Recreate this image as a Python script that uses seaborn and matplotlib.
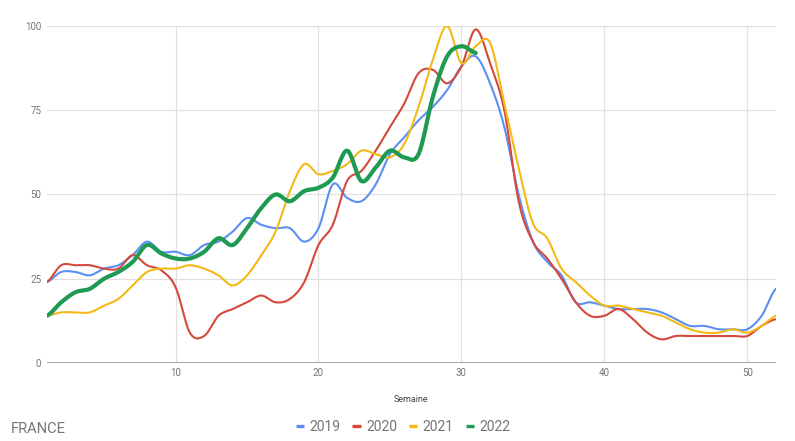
import matplotlib
matplotlib.use("Agg")
import matplotlib.pyplot as plt
from matplotlib.lines import Line2D
import numpy as np
import pandas as pd
import seaborn as sns

WEEKS = list(range(1, 53))

Y2019 = [24, 27, 27, 26, 28, 29, 32, 36, 33, 33, 32, 35, 36, 39, 43, 41, 40, 40, 36, 40,
         53, 49, 48, 53, 62, 67, 72, 76, 81, 88, 91, 83, 70, 50, 36, 30, 26, 18, 18, 17,
         16, 16, 16, 15, 13, 11, 11, 10, 10, 10, 14, 22]
Y2020 = [24, 29, 29, 29, 28, 28, 32, 29, 27.5, 22.5, 9, 8, 14, 16, 18, 20, 18, 19, 24, 35,
         41, 54, 57, 63, 70, 77, 86, 87, 83, 88, 99, 89, 75, 48, 36, 31, 25, 18, 14, 14,
         16, 13, 9, 7, 8, 8, 8, 8, 8, 8, 11, 13]
Y2021 = [14, 15, 15, 15, 17, 19, 23, 27, 28, 28, 29, 28, 26, 23, 26, 32, 39, 51, 59, 56,
         57, 59, 63, 62, 61, 65, 76, 90, 100, 89, 94, 95, 77, 58, 41.5, 37, 28, 24, 20, 17,
         17, 16, 15, 14, 12, 10, 9, 9, 10, 9, 11, 14]
Y2022 = [14, 18, 21, 22, 25, 27, 30, 35, 32.5, 31, 31, 33, 37, 35, 40, 46, 50, 48, 51, 52,
         55, 63, 54, 58, 63, 61, 62, 79, 91, 94, 92]

SERIES = ["2019", "2020", "2021", "2022"]
COLORS = ["#5b8ff3", "#d4493c", "#f4b916", "#1e9a52"]
WIDTHS = [1.5, 1.5, 1.5, 3.0]
GREY = "#757575"


def smooth(x, y, n=16):
    """Catmull-Rom curve through the weekly points (like curveType 'function')."""
    x = np.asarray(x, float)
    y = np.asarray(y, float)
    yp = np.concatenate([[y[0]], y, [y[-1]]])
    xs, ys = [], []
    t = np.linspace(0, 1, n, endpoint=False)
    for i in range(len(y) - 1):
        p0, p1, p2, p3 = yp[i], yp[i + 1], yp[i + 2], yp[i + 3]
        seg = 0.5 * (2 * p1 + (-p0 + p2) * t + (2 * p0 - 5 * p1 + 4 * p2 - p3) * t ** 2
                     + (-p0 + 3 * p1 - 3 * p2 + p3) * t ** 3)
        xs.append(x[i] + t * (x[i + 1] - x[i]))
        ys.append(seg)
    xs.append([x[-1]])
    ys.append([y[-1]])
    return np.concatenate(xs), np.concatenate(ys)


def main() -> None:
    sns.set_style("white")
    plt.rcParams["font.family"] = ["Roboto", "DejaVu Sans"]

    fig = plt.figure(figsize=(7.95, 4.41), dpi=100)
    ax = fig.add_axes([0.059, 0.177, 0.917, 0.764])

    for name, vals, color, lw in zip(SERIES, [Y2019, Y2020, Y2021, Y2022], COLORS, WIDTHS):
        xs, ys = smooth(WEEKS[: len(vals)], vals)
        df = pd.DataFrame({"Semaine": xs, "value": ys})
        sns.lineplot(data=df, x="Semaine", y="value", ax=ax, color=color,
                     linewidth=lw, sort=False, estimator=None, zorder=3)

    ax.set_xlim(1, 52)
    ax.set_ylim(0, 100)
    ax.set_xticks([10, 20, 30, 40, 50])
    ax.set_yticks([0, 25, 50, 75, 100])
    ax.grid(True, color="#e0e0e0", linewidth=0.9, zorder=0)
    ax.axhline(0, color="#9e9e9e", linewidth=1.3, zorder=2)
    for s in ax.spines.values():
        s.set_visible(False)
    ax.tick_params(length=0, labelsize=7, labelcolor=GREY, pad=4)
    ax.set_xlabel("Semaine", fontsize=6.5, color="#444444", labelpad=12)
    ax.set_ylabel("")

    handles = [Line2D([0], [0], color=c, linewidth=2.4, solid_capstyle="butt") for c in COLORS]
    fig.legend(handles, SERIES, loc="center", bbox_to_anchor=(0.507, 0.032), ncol=4,
               frameon=False, fontsize=10, handlelength=0.6, handletextpad=0.4,
               columnspacing=0.85, labelcolor=GREY)
    fig.text(0.013, 0.028, "FRANCE", fontsize=10.5, color=GREY, va="center")

    fig.savefig("out.png", dpi=100)


if __name__ == "__main__":
    main()
